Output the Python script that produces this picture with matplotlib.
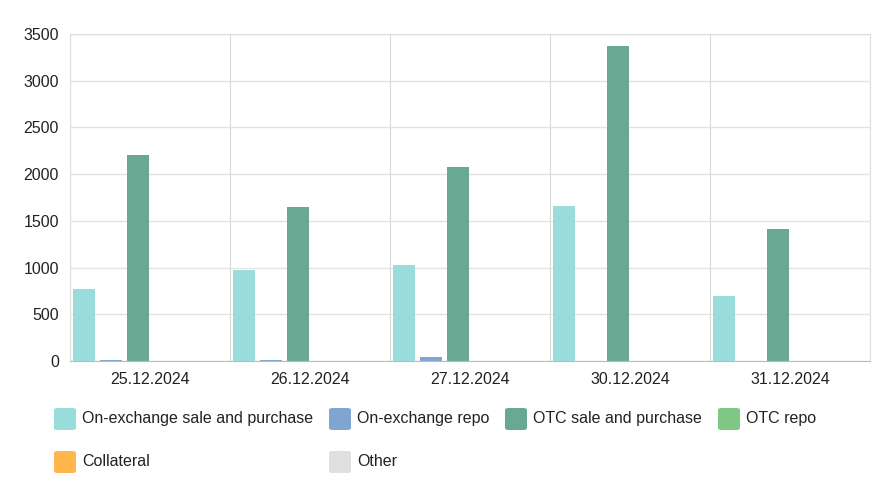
import numpy as np
import matplotlib.pyplot as plt
from matplotlib.patches import FancyBboxPatch

plt.rcParams['font.family'] = ['Liberation Sans', 'DejaVu Sans']

dates = ['25.12.2024', '26.12.2024', '27.12.2024', '30.12.2024', '31.12.2024']
series_names = ['On-exchange sale and purchase', 'On-exchange repo', 'OTC sale and purchase',
                'OTC repo', 'Collateral', 'Other']
onex_sale = [770, 975, 1028, 1660, 697]
onex_repo = [15, 11, 43, 5, 5]
otc_sale = [2205, 1648, 2077, 3373, 1413]
otc_repo = [5, 5, 5, 5, 5]
collateral = [5, 5, 4, 5, 5]
other = [0, 0, 0, 0, 0]
colors = ['#98dddc', '#7fa6d2', '#69a993', '#80c785', '#ffb74d', '#e0e0e0']

values = [onex_sale, onex_repo, otc_sale, otc_repo, collateral, other]

fig = plt.figure(figsize=(8.91, 5.0), dpi=100)
ax = fig.add_axes([70 / 891, 1 - 361 / 500, 800 / 891, 327 / 500])

n = len(values)
slot = 1.0 / n
x = np.arange(len(dates))
for i, (vals, c) in enumerate(zip(values, colors)):
    ax.bar(x - 0.5 + slot * (i + 0.5) + 0.006, vals, width=slot * 0.83, color=c, zorder=2)

ax.set_xlim(-0.5, len(dates) - 0.5)
ax.set_ylim(0, 3500)
ax.set_yticks(range(0, 3501, 500))
ax.set_xticks(x)
ax.set_xticklabels(dates)
ax.set_xticks(np.arange(len(dates) + 1) - 0.5, minor=True)
ax.grid(axis='y', color='#e3e3e3', lw=1, zorder=0)
ax.grid(axis='x', which='minor', color='#d8d8d8', lw=0.8, zorder=0)
ax.tick_params(which='both', length=0, labelsize=11.5, colors='#222222')
ax.tick_params(axis='x', pad=8)
ax.tick_params(axis='y', pad=8)
for s in ax.spines.values():
    s.set_color('#dddddd')
ax.spines['bottom'].set_color('#bbbbbb')

# legend laid out in two rows like the original
legend_pos = [(54, 419), (329, 419), (505, 419), (718, 419), (54, 462), (329, 462)]
for (px, py), name, c in zip(legend_pos, series_names, colors):
    box = FancyBboxPatch((px / 891, 1 - (py + 11) / 500), 22 / 891, 22 / 500,
                         boxstyle='round,pad=0,rounding_size=0.004',
                         transform=fig.transFigure, facecolor=c, edgecolor='none')
    fig.patches.append(box)
    fig.text((px + 28) / 891, 1 - py / 500, name, fontsize=11.5, va='center', color='#222222')

fig.savefig('out.png', dpi=100)
